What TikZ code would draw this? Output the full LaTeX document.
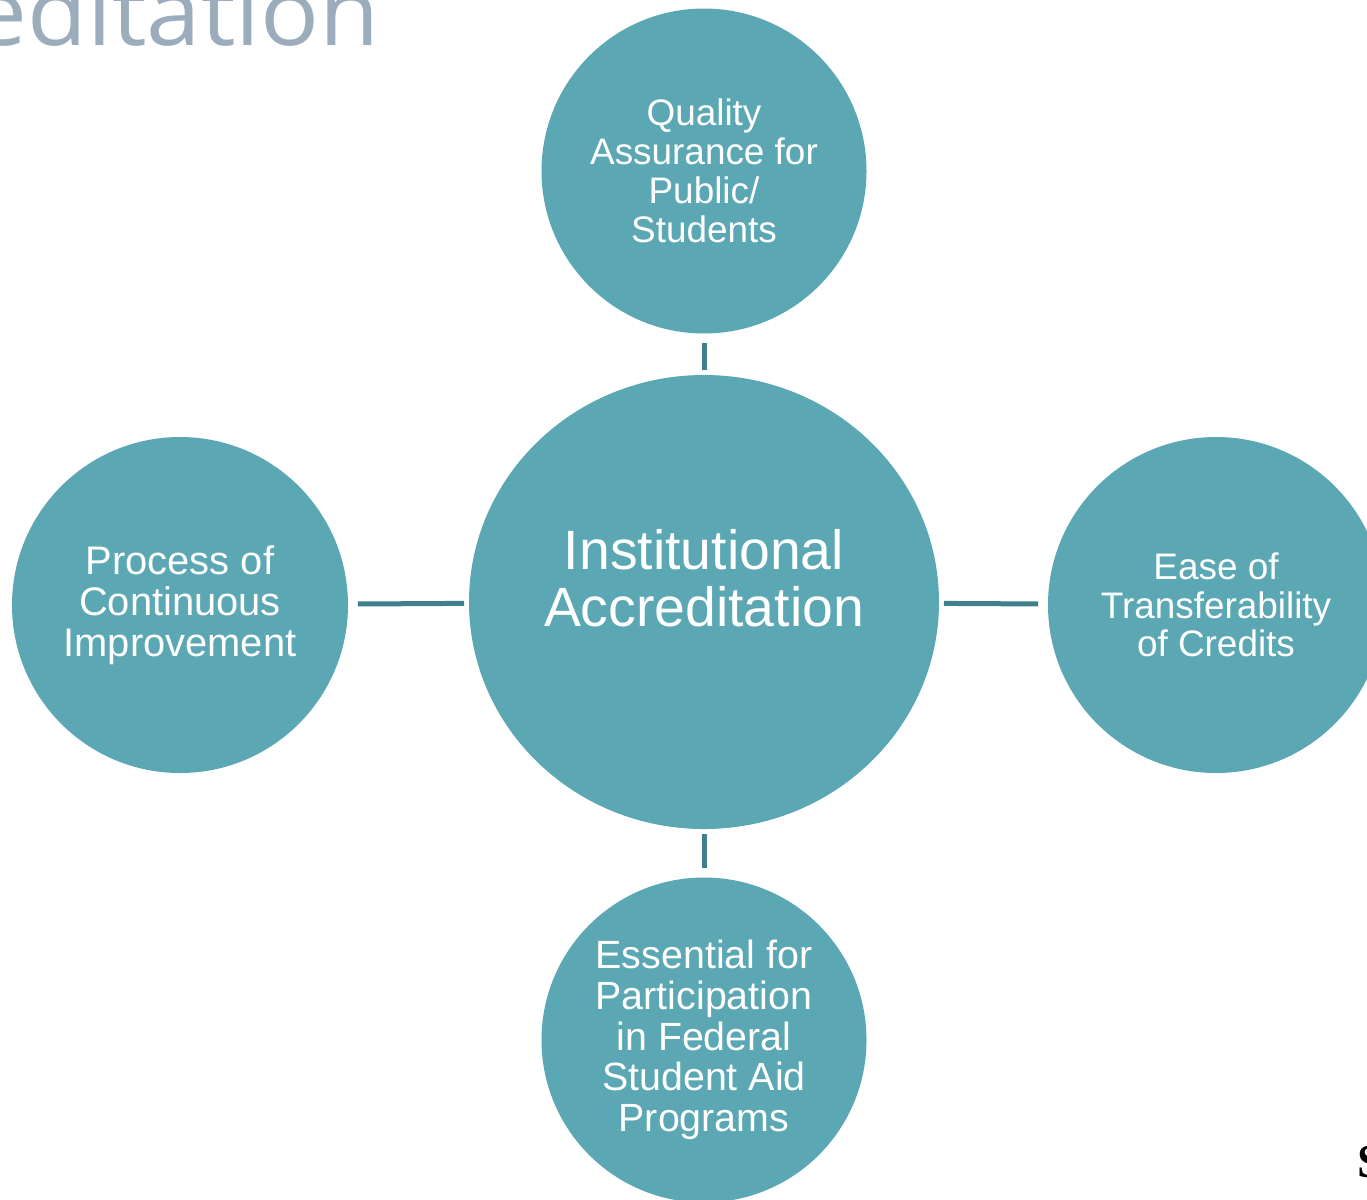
\documentclass[tikz,border=0pt]{standalone}
\usepackage{fontspec}
\setmainfont{Liberation Sans}
\newfontfamily\titlefont{Open Sans}
\newfontfamily\logofont{Liberation Serif}
\usetikzlibrary{shapes.geometric}

\definecolor{r91g167b180}{RGB}{91,167,180}
\definecolor{r62g128b140}{RGB}{62,128,140}
\definecolor{r155g172b189}{RGB}{155,172,189}

\tikzset{
  bubble/.style={circle, fill=r91g167b180, draw=none, inner sep=0pt,
    text=white, align=center, minimum size=#1},
  link/.style={line width=0.1cm, draw=r62g128b140,
    shorten <=0.09cm, shorten >=0.19cm},
}

\begin{document}
\begin{tikzpicture}
% \clip (0,0) rectangle (27.34,-23.98);
\useasboundingbox (0,0) rectangle (27.34,-23.98);
\clip (0,0) rectangle (27.34,-23.98);

% Title left over from the slide
\node (titletext) [anchor=base east, inner sep=0pt, text=r155g172b189,
  font=\titlefont\fontsize{53}{53}\selectfont] at (7.60,-0.90)
  {\scalebox{1.05}[1]{editation}};

% Hub
\node (hub) [ellipse, fill=r91g167b180, draw=none, inner sep=0pt,
  minimum width=9.40cm, minimum height=9.08cm,
  label={[name=hubtext, text=white, align=center,
    font=\fontsize{31.5}{32.3}\selectfont, yshift=0.48cm]center:Institutional\\Accreditation}]
  at (14.08,-12.04) {};

% Outer circles
\node (quality) [bubble=6.5cm, font=\fontsize{21}{22.1}\selectfont]
  at (14.08,-3.42) {Quality\\Assurance for\\Public/\\Students};
\node (process) [bubble=6.72cm, font=\fontsize{22.7}{23.2}\selectfont]
  at (3.60,-12.10) {Process of\\Continuous\\Improvement};
\node (transfer) [bubble=6.72cm, font=\fontsize{21}{21.8}\selectfont]
  at (24.32,-12.10) {Ease of\\Transferability\\of Credits};
\node (federal) [bubble=6.5cm, font=\fontsize{22.4}{23.2}\selectfont]
  at (14.08,-20.80) {Essential for\\Participation\\in Federal\\Student Aid\\Programs};

% Connectors
\draw [link] (hub) -- (quality);
\draw [link] (hub) -- (process);
\draw [link] (hub) -- (transfer);
\draw [link] (hub) -- (federal);

% Logo edge
\node (logo) [anchor=base west, inner sep=0pt,
  font=\logofont\bfseries\fontsize{27}{27}\selectfont] at (27.14,-23.54) {S};
\end{tikzpicture}
\end{document}
